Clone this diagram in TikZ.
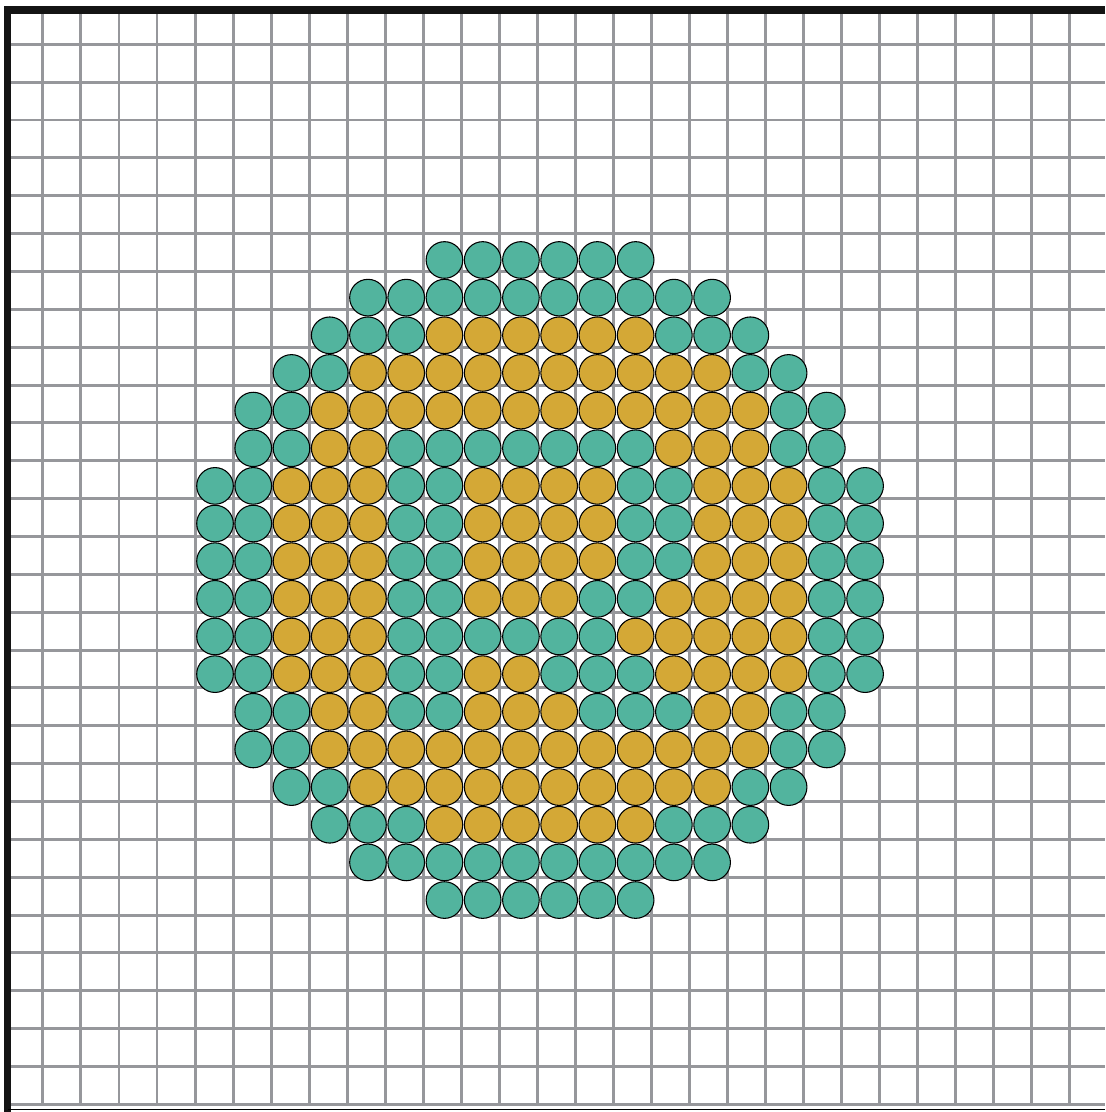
\documentclass[tikz,border=0pt]{standalone}
\usepackage{tikz}
\usepackage{xcolor}
\definecolor{discT}{RGB}{82,180,158}
\definecolor{discG}{RGB}{212,168,54}
\definecolor{gridGray}{RGB}{150,151,155}

% riga di dischi: #1 riga, #2 prima colonna, #3 colori
\newcommand{\discRow}[3]{%
    \foreach \k [count=\i from 0] in {#3} {
        \pgfmathtruncatemacro{\c}{#2+\i}
        \node[disc, fill=disc\k] (d#1-\c) at ({5.658+1.0063*\c}, {22.421-0.9908*#1}) {};
    }%
}

\begin{document}
\begin{tikzpicture}[
    disc/.style={circle, draw=black, line width=0.8pt, minimum size=0.964cm, inner sep=0pt},
    gridLine/.style={draw=gridGray, line width=2.2pt},
    frameLine/.style={draw=black!92, line width=5.3pt}
]
    \useasboundingbox (0,0) rectangle (29.079,29.263);

    % Griglia
    \foreach \k in {0,...,27}
        \draw[gridLine] ({1.129+1.001*\k}, 0.21) -- ({1.129+1.001*\k}, 29.1);
    \foreach \k in {0,...,28}
        \draw[gridLine] (0.2, {28.097-0.9963*\k}) -- (29.079, {28.097-0.9963*\k});

    % Cornice
    \draw[frameLine] (29.079, 29.0) -- (0.205, 29.0) -- (0.205, 0);
    \draw[black, line width=1.4pt] (0.205, 0.066) -- (29.079, 0.066);

    % Dischi
    \discRow{0}{6}{T,T,T,T,T,T}
    \discRow{1}{4}{T,T,T,T,T,T,T,T,T,T}
    \discRow{2}{3}{T,T,T,G,G,G,G,G,G,T,T,T}
    \discRow{3}{2}{T,T,G,G,G,G,G,G,G,G,G,G,T,T}
    \discRow{4}{1}{T,T,G,G,G,G,G,G,G,G,G,G,G,G,T,T}
    \discRow{5}{1}{T,T,G,G,T,T,T,T,T,T,T,G,G,G,T,T}
    \discRow{6}{0}{T,T,G,G,G,T,T,G,G,G,G,T,T,G,G,G,T,T}
    \discRow{7}{0}{T,T,G,G,G,T,T,G,G,G,G,T,T,G,G,G,T,T}
    \discRow{8}{0}{T,T,G,G,G,T,T,G,G,G,G,T,T,G,G,G,T,T}
    \discRow{9}{0}{T,T,G,G,G,T,T,G,G,G,T,T,G,G,G,G,T,T}
    \discRow{10}{0}{T,T,G,G,G,T,T,T,T,T,T,G,G,G,G,G,T,T}
    \discRow{11}{0}{T,T,G,G,G,T,T,G,G,T,T,T,G,G,G,G,T,T}
    \discRow{12}{1}{T,T,G,G,T,T,G,G,G,T,T,T,G,G,T,T}
    \discRow{13}{1}{T,T,G,G,G,G,G,G,G,G,G,G,G,G,T,T}
    \discRow{14}{2}{T,T,G,G,G,G,G,G,G,G,G,G,T,T}
    \discRow{15}{3}{T,T,T,G,G,G,G,G,G,T,T,T}
    \discRow{16}{4}{T,T,T,T,T,T,T,T,T,T}
    \discRow{17}{6}{T,T,T,T,T,T}
\end{tikzpicture}
\end{document}
